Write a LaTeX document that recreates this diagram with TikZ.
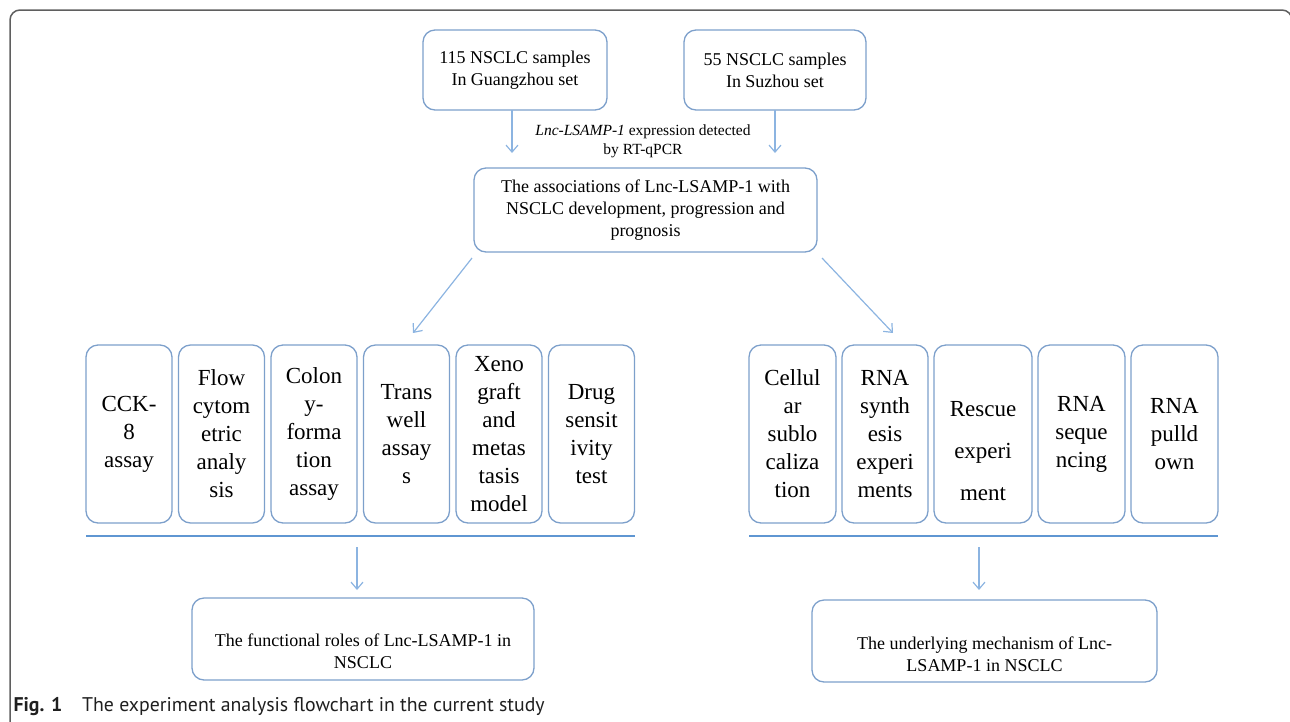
\documentclass[tikz,border=0pt]{standalone}
\usepackage{fontspec}
\setmainfont{Liberation Serif}
\newfontfamily\captionfont{PT Sans}
\usetikzlibrary{arrows.meta,positioning}

\definecolor{boxblue}{RGB}{125,160,203}
\definecolor{arrowblue}{RGB}{140,180,225}
\definecolor{ruleblue}{RGB}{95,150,210}
\definecolor{framegray}{RGB}{95,95,95}

\begin{document}
\begin{tikzpicture}[x=1pt,y=-1pt,>={Straight Barb[length=7pt,width=12pt]},
    link/.style={->,draw=arrowblue,line width=1.2pt},
    rule/.style={draw=ruleblue,line width=2.4pt},
    base box/.style={draw=boxblue,line width=1.3pt,rounded corners=12pt,align=center,inner sep=0pt,outer sep=0pt},
    top box/.style={base box,minimum width=184pt,minimum height=80pt,font=\fontsize{18}{22}\selectfont},
    wide box/.style={base box,minimum width=343pt,minimum height=84pt,font=\fontsize{18}{22}\selectfont},
    test box/.style={base box,minimum width=86pt,minimum height=178pt,font=\fontsize{23}{28}\selectfont},
    box text/.style={align=center,font=\fontsize{18}{22}\selectfont}]

  \useasboundingbox (0,0) rectangle (1290,721);
  \draw[framegray,line width=1.5pt,rounded corners=10pt] (10,725) -- (10,10) -- (1292,10) -- (1292,60);

  % sample sets
  \node[top box] (guangzhou) at (515,70) {115 NSCLC samples\\In Guangzhou set};
  \node[top box,minimum width=182pt] (suzhou) at (775,70) {55 NSCLC samples\\In Suzhou set};
  \node[align=center,font=\fontsize{15.5}{19}\selectfont] (rtqpcr) at (643,141)
       {\textit{Lnc-LSAMP-1} expression detected\\by RT-qPCR};
  \node[wide box] (assoc) at (645.5,210)
       {The associations of Lnc-LSAMP-1 with\\NSCLC development, progression and\\prognosis};

  \coordinate (gz end) at (512,153);
  \coordinate (sz end) at (775,153);
  \draw[link] (guangzhou.south -| gz end) -- (gz end);
  \draw[link] (suzhou.south) -- (sz end);

  % functional experiments
  \node[test box] (cck) at (129,434) {CCK-\\8\\assay};
  \node[test box,right=6.5pt of cck] (flowcyto) {Flow\\cytom\\etric\\analy\\sis};
  \node[test box,right=6.5pt of flowcyto] (colony) {Colon\\y-\\forma\\tion\\assay};
  \node[test box,right=6.5pt of colony] (transwell) {Trans\\well\\assay\\s};
  \node[test box,right=6.5pt of transwell] (xeno) {Xeno\\graft\\and\\metas\\tasis\\model};
  \node[test box,right=6.5pt of xeno] (drug) {Drug\\sensit\\ivity\\test};

  % mechanism experiments
  \node[test box,minimum width=87pt] (cellular) at (792.5,434) {Cellul\\ar\\sublo\\caliza\\tion};
  \node[test box,right=6pt of cellular] (synthesis) {RNA\\synth\\esis\\experi\\ments};
  \node[test box,minimum width=98pt,right=6pt of synthesis,
        label={[align=center,font=\fontsize{23}{42}\selectfont,yshift=-17pt]center:Rescue\\experi\\ment}] (rescue) {};
  \node[test box,minimum width=87pt,right=6pt of rescue] (sequencing) {RNA\\seque\\ncing};
  \node[test box,minimum width=87pt,right=6pt of sequencing] (pulldown) {RNA\\pulld\\own};

  \coordinate (func start) at (472,258);
  \coordinate (func end) at (413,333);
  \coordinate (mech start) at (822,258);
  \coordinate (mech end) at (893,333);
  \draw[link] (func start) -- (func end);
  \draw[link] (mech start) -- (mech end);

  \draw[rule] ([yshift=-13pt]cck.south west) -- ([yshift=-13pt]drug.south east);
  \draw[rule] ([yshift=-13pt]cellular.south west) -- ([yshift=-13pt]pulldown.south east);

  % outcomes
  \node[wide box,minimum width=342pt,minimum height=82pt,
        label={[box text,yshift=-12pt]center:The functional roles of Lnc-LSAMP-1 in\\NSCLC}] (roles) at (363,639) {};
  \node[wide box,minimum width=345pt,minimum height=82pt,
        label={[box text,yshift=-13pt]center:The underlying mechanism of Lnc-\\LSAMP-1 in NSCLC}] (mechanism) at (984.5,641) {};

  \draw[link] ([xshift=-6pt,yshift=51pt]roles.north) -- ([xshift=-6pt,yshift=8pt]roles.north);
  \draw[link] ([xshift=-5.5pt,yshift=53pt]mechanism.north) -- ([xshift=-5.5pt,yshift=10pt]mechanism.north);

  \node[anchor=base west,font=\captionfont\fontsize{19.8}{23}\selectfont,text=black!88] (caption) at (10,711)
       {\textbf{Fig. 1}\quad The experiment analysis flowchart in the current study};
\end{tikzpicture}
\end{document}
